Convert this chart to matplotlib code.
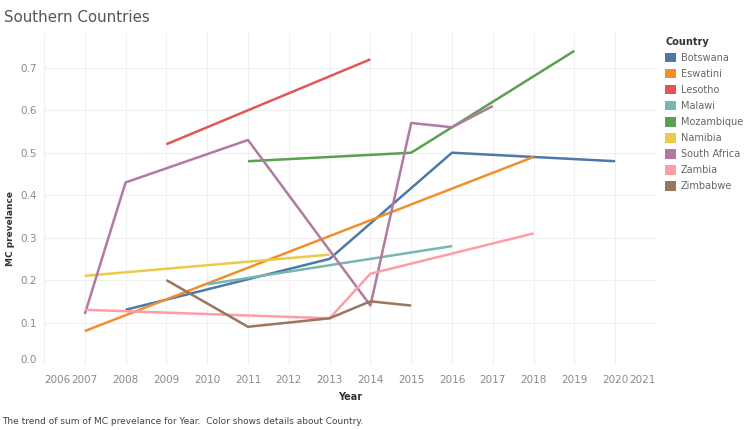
import matplotlib.pyplot as plt
from matplotlib.patches import Patch

countries = ['Botswana', 'Eswatini', 'Lesotho', 'Malawi', 'Mozambique',
             'Namibia', 'South Africa', 'Zambia', 'Zimbabwe']
colors = ['#4e79a7', '#f28e2b', '#e15759', '#76b7b2', '#59a14f',
          '#edc948', '#b07aa1', '#ff9da7', '#9c755f']

botswana_years = [2008, 2013, 2016, 2018, 2020]
botswana_vals = [0.13, 0.25, 0.50, 0.49, 0.48]
eswatini_years = [2007, 2018]
eswatini_vals = [0.08, 0.49]
lesotho_years = [2009, 2014]
lesotho_vals = [0.52, 0.72]
malawi_years = [2010, 2016]
malawi_vals = [0.19, 0.28]
mozambique_years = [2011, 2015, 2019]
mozambique_vals = [0.48, 0.50, 0.74]
namibia_years = [2007, 2013]
namibia_vals = [0.21, 0.26]
south_africa_years = [2007, 2008, 2011, 2014, 2015, 2016, 2017]
south_africa_vals = [0.12, 0.43, 0.53, 0.14, 0.57, 0.56, 0.61]
zambia_years = [2007, 2013, 2014, 2018]
zambia_vals = [0.13, 0.11, 0.215, 0.31]
zimbabwe_years = [2009, 2011, 2013, 2014, 2015]
zimbabwe_vals = [0.20, 0.09, 0.11, 0.15, 0.14]

series = [
    (botswana_years, botswana_vals),
    (eswatini_years, eswatini_vals),
    (lesotho_years, lesotho_vals),
    (malawi_years, malawi_vals),
    (mozambique_years, mozambique_vals),
    (namibia_years, namibia_vals),
    (south_africa_years, south_africa_vals),
    (zambia_years, zambia_vals),
    (zimbabwe_years, zimbabwe_vals),
]

x_ticks = list(range(2006, 2022))
y_ticks = [0.0, 0.1, 0.2, 0.3, 0.4, 0.5, 0.6, 0.7]

GRID = '#f0f0f0'
TICK = '#8a8a8a'

fig = plt.figure(figsize=(7.5, 4.3), dpi=100)
ax = fig.add_axes([44 / 750, 65 / 430, 612 / 750, 332 / 430])

# later countries sit on top, same as the original
for (yrs, vals), c in zip(series, colors):
    ax.plot(yrs, vals, color=c, linewidth=1.8, solid_capstyle='butt')

ax.set_xlim(2006, 2021)
ax.set_ylim(0, 0.782)
ax.set_xticks(x_ticks)
ax.set_xticklabels([str(x) for x in x_ticks])
ax.set_yticks(y_ticks)
ax.set_yticklabels(['%.1f' % y for y in y_ticks])
ax.tick_params(length=0, labelsize=7.5, colors=TICK)
ax.tick_params(axis='x', pad=7)
ax.tick_params(axis='y', pad=5)

labels = ax.get_xticklabels()
labels[0].set_horizontalalignment('left')
labels[-1].set_horizontalalignment('right')
ylabels = ax.get_yticklabels()
ylabels[0].set_verticalalignment('bottom')

ax.grid(True, color=GRID, linewidth=0.8)
ax.set_axisbelow(True)
for spine in ax.spines.values():
    spine.set_visible(False)

fig.text(4 / 750, 1 - 17 / 430, 'Southern Countries', fontsize=10.8,
         color='#555555', va='center', ha='left')
fig.text(350 / 750, 1 - 397 / 430, 'Year', fontsize=7, fontweight='bold',
         color='#333333', ha='center', va='center')
fig.text(11 / 750, 1 - 228 / 430, 'MC prevelance', fontsize=6.5, fontweight='bold',
         color='#333333', rotation=90, ha='center', va='center')
fig.text(2 / 750, 1 - 422 / 430,
         'The trend of sum of MC prevelance for Year.  Color shows details about Country.',
         fontsize=6.5, color='#444444', ha='left', va='center')

handles = [Patch(facecolor=c, edgecolor='none') for c in colors]
leg = fig.legend(handles, countries, title='Country', loc='upper left',
                 bbox_to_anchor=(665 / 750, 1 - 37 / 430), frameon=False,
                 fontsize=7, title_fontsize=7, handlelength=1.1, handleheight=1.1,
                 handletextpad=0.5, labelspacing=0.62, borderaxespad=0,
                 borderpad=0, alignment='left')
leg.get_title().set_fontweight('bold')
leg.get_title().set_color('#333333')
for t in leg.get_texts():
    t.set_color('#666666')

fig.savefig('out.png', dpi=100)
